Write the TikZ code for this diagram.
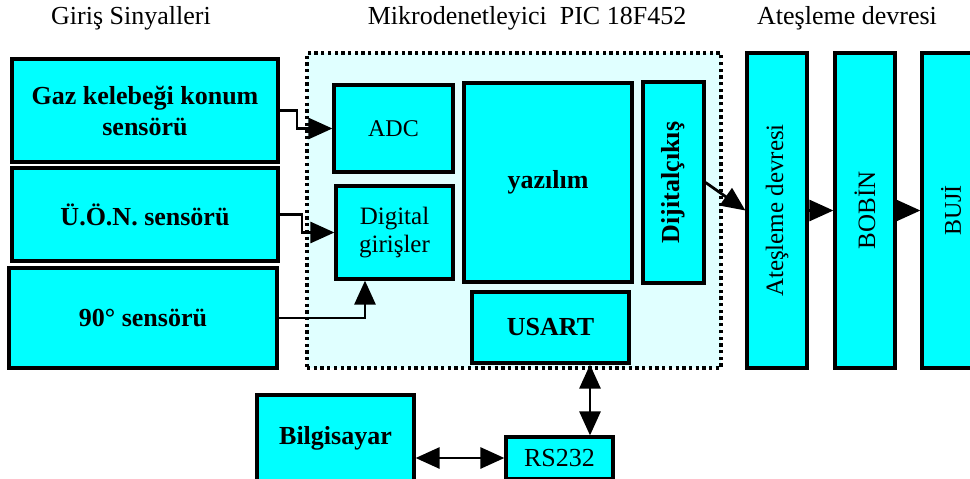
\documentclass[tikz,border=0pt]{standalone}
\usepackage{fontspec}
\setmainfont{Liberation Serif}
\usepackage{graphicx}
\usetikzlibrary{arrows.meta}
\definecolor{boxcyan}{RGB}{0,255,255}
\definecolor{mcufill}{RGB}{224,255,255}
\tikzset{
  blk/.style={draw=black, line width=3.2pt, fill=boxcyan, inner sep=0pt, align=center},
  bfont/.style={font=\fontsize{26}{31}\selectfont\bfseries},
  rfont/.style={font=\fontsize{25}{28}\selectfont},
  mcubox/.style={draw=black, line width=3.3pt, dash pattern=on 3.3pt off 3.4pt, fill=mcufill, inner sep=0pt},
  tip/.tip={Triangle[length=24pt,width=21pt]},
  arr/.style={line width=2.8pt, -tip},
  dbl/.style={line width=2.8pt, tip-tip},
  ttl/.style={font=\fontsize{26}{31}\selectfont, inner sep=0pt}
}
\begin{document}
\begin{tikzpicture}[x=1pt,y=-1pt]
\useasboundingbox (0,0) rectangle (970,479);
\clip (0,0) rectangle (970,479);
% titles
\node[ttl] (t1) at (131,18) {Giriş Sinyalleri};
\node[ttl] (t2) at (527,18) {Mikrodenetleyici\ \ PIC 18F452};
\node[ttl] (t3) at (847,18) {Ateşleme devresi};
% microcontroller region
\node[mcubox, minimum width=414pt, minimum height=315pt] (mcu) at (514,210.5) {};
% sensors
\node[blk, bfont, minimum width=266pt, minimum height=103pt] (gaz) at (145,110.5) {Gaz kelebeği konum\\sensörü};
\node[blk, bfont, minimum width=266pt, minimum height=93pt] (uon) at (145,214.5) {Ü.Ö.N. sensörü};
\node[blk, bfont, minimum width=268pt, minimum height=100pt] (ninety) at (143,318) {90° sensörü};
% inside mcu
\node[blk, rfont, font=\fontsize{24}{28}\selectfont, minimum width=119pt, minimum height=87pt] (adc) at (393.5,128.5) {ADC};
\node[blk, rfont, minimum width=117pt, minimum height=93pt] (dig) at (394.5,232.5) {Digital\\girişler};
\node[blk, bfont, minimum width=168pt, minimum height=199pt] (yaz) at (548,182.5) {yazılım};
\node[blk, bfont, minimum width=61pt, minimum height=201pt] (dij) at (673.5,182.5) {\rotatebox{90}{Dijitalçıkış}};
\node[blk, bfont, minimum width=157pt, minimum height=71pt] (usart) at (550.5,327.5) {USART};
% ignition chain
\node[blk, rfont, minimum width=60pt, minimum height=315pt] (ates) at (777,210.5) {\rotatebox{90}{Ateşleme devresi}};
\node[blk, rfont, minimum width=60pt, minimum height=315pt] (bobin) at (865,210.5) {\rotatebox{90}{BOBİN}};
\node[blk, rfont, font=\fontsize{24}{28}\selectfont, minimum width=58pt, minimum height=315pt] (buji) at (951,210.5) {\rotatebox{90}{BUJİ}};
% bottom
\node[blk, bfont, minimum width=157pt, minimum height=86pt] (bilg) at (335.5,438) {Bilgisayar};
\node[blk, rfont, font=\fontsize{26}{28}\selectfont, minimum width=107pt, minimum height=42pt] (rs) at (559.5,458) {RS232};
% bend coordinates
\coordinate (g1) at (297,0);
\coordinate (u1) at (302,0);
\coordinate (n1) at (365,0);
\coordinate (v1) at (590,0);
% connectors
\draw[arr] (gaz.east) -| (g1 |- adc.west) -- (adc.west);
\draw[arr] (uon.east) -| (u1 |- dig.west) -- (dig.west);
\draw[arr] (ninety.east) -| (n1 |- dig.south);
\draw[arr] (dij.east) -- (ates.west);
\draw[arr] (ates.east) -- (bobin.west);
\draw[arr] (bobin.east) -- (buji.west);
\draw[dbl] (usart.south -| v1) -- (rs.north -| v1);
\draw[dbl] (bilg.east |- rs.west) -- (rs.west);
\end{tikzpicture}
\end{document}
